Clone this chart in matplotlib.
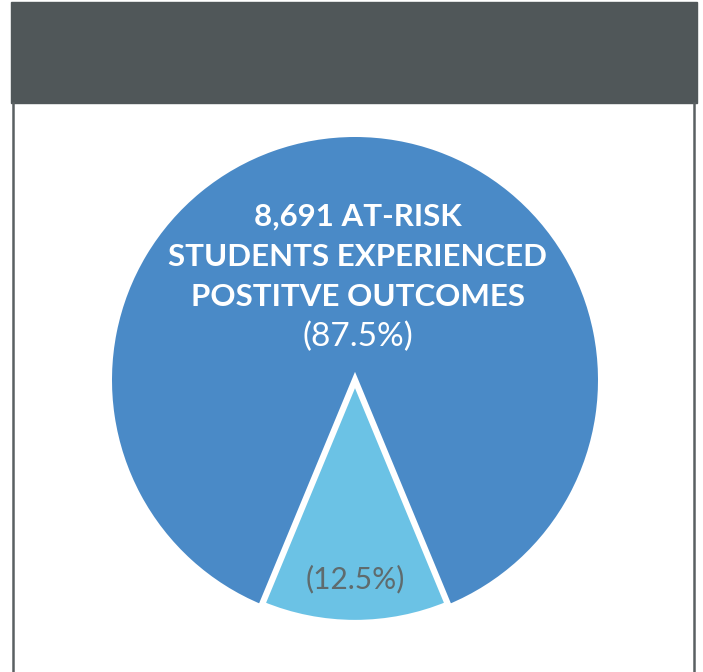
import matplotlib
matplotlib.use("Agg")
import matplotlib.pyplot as plt
from matplotlib.patches import Rectangle
from matplotlib.lines import Line2D

W, H = 703, 672

values = [87.5, 12.5]
colors = ["#4A8AC7", "#6BC2E5"]
main_label = ["8,691 AT-RISK", "STUDENTS EXPERIENCED", "POSTITVE OUTCOMES"]
pct_labels = ["(87.5%)", "(12.5%)"]

HEADER = "#505759"
FONT = "Lato"

fig = plt.figure(figsize=(W / 100, H / 100), dpi=100)
fig.patch.set_facecolor("white")

# pixel helpers (origin top-left like the picture)
fx = lambda px: px / W
fy = lambda py: 1 - py / H

# header band and side frame
fig.patches.append(Rectangle((fx(11), fy(103)), fx(686), 101 / H,
                             transform=fig.transFigure, color=HEADER, zorder=0))
for x in (13, 694):
    fig.lines.append(Line2D([fx(x), fx(x)], [fy(103), 0], transform=fig.transFigure,
                            color="#5a6062", lw=1.8))

# pie
cx, cy, r = 355, 380, 243
ax = fig.add_axes([fx(cx - r), fy(cy + r), 2 * r / W, 2 * r / H])
wedges, _ = ax.pie(values, colors=colors, startangle=292.5, radius=1,
                   wedgeprops=dict(linewidth=0))
ax.set_xlim(-1, 1)
ax.set_ylim(-1, 1)
ax.axis("off")
wedges[1].set_edgecolor("white")
wedges[1].set_linewidth(4.5)
wedges[1].set_zorder(3)
for w in wedges:
    w.set_clip_on(False)

# labels
line_y = [217, 257, 297]
for txt, y in zip(main_label, line_y):
    fig.text(fx(358), fy(y), txt, ha="center", va="center", color="white",
             fontsize=22.5, fontweight="bold", family=FONT)
fig.text(fx(358), fy(337), pct_labels[0], ha="center", va="center", color="white",
         fontsize=24, family=FONT)
fig.text(fx(355), fy(579), pct_labels[1], ha="center", va="center", color="#5F6B6D",
         fontsize=21.5, family=FONT)

fig.savefig("out.png", dpi=100)
